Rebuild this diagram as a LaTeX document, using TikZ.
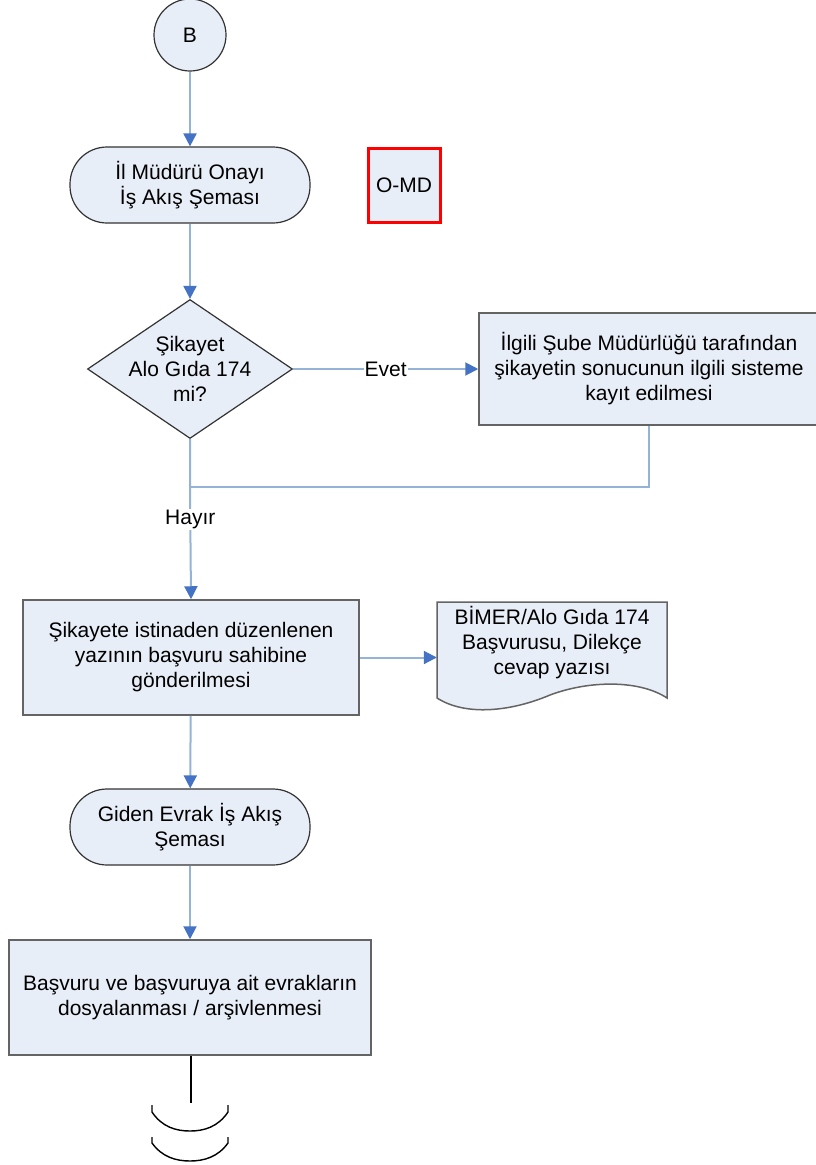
\documentclass[tikz,border=0pt]{standalone}
\usepackage{fontspec}
\setmainfont{Liberation Sans}
\usetikzlibrary{arrows.meta,shapes.geometric}
\definecolor{shapefill}{RGB}{232,238,247}
\definecolor{linkblue}{RGB}{149,179,215}
\definecolor{tipblue}{RGB}{68,114,196}
\definecolor{boxgrey}{RGB}{100,100,100}
\begin{document}
\begin{tikzpicture}[x=1pt,y=-1pt,
  txt/.style={font=\fontsize{21pt}{25pt}\selectfont, align=center, inner sep=0pt},
  procbox/.style={txt, draw=boxgrey, line width=1.5pt, fill=shapefill, minimum width=#1, minimum height=115pt},
  termbox/.style={txt, draw=black!80, line width=1.2pt, fill=shapefill, rounded corners=37pt, minimum width=240pt, minimum height=76pt},
  link/.style={draw=linkblue, line width=2pt},
  arrowlink/.style={link, -{Triangle[length=13pt,width=13pt,color=tipblue]}},
  lbl/.style={txt, fill=white, inner sep=1pt},
  breakmark/.style={black, line width=1.4pt}
]
\useasboundingbox (0,0) rectangle (815,1165);

% start connector
\node[circle, draw=black!80, line width=1.2pt, fill=shapefill, minimum size=72pt, txt] (b) at (190,35) {B};

\node[termbox] (t1) at (190,185) {İl Müdürü Onayı\\İş Akış Şeması};

\node[txt, draw=red, line width=3pt, fill=shapefill, minimum width=72pt, minimum height=74pt] (omd) at (404,185) {O-MD};

\node[diamond, draw=black!80, line width=1.2pt, fill=shapefill, minimum width=205pt, minimum height=139pt, inner sep=0pt] (d) at (190,369) {};
\node[txt] (dtext) at (190,369) {Şikayet\\Alo Gıda 174\\mi?};

\node[procbox=340pt, minimum height=112pt] (kayit) at (649,369) {İlgili Şube Müdürlüğü tarafından\\şikayetin sonucunun ilgili sisteme\\kayıt edilmesi};

\coordinate (join) at (190,487);
\coordinate (joinr) at (649,487);

\node[procbox=336pt] (yazi) at (191,657.5) {Şikayete istinaden düzenlenen\\yazının başvuru sahibine\\gönderilmesi};

% document shape
\draw[draw=boxgrey, line width=1.5pt, fill=shapefill]
  (437,602) -- (667,602) -- (667,698)
  .. controls (640,680) and (590,680) .. (550,695)
  .. controls (510,712) and (465,716) .. (437,698) -- cycle;
\node[txt, minimum width=230pt, minimum height=96pt] (doc) at (552,650) {};
\node[txt] (doctext) at (552,643) {BİMER/Alo Gıda 174\\Başvurusu, Dilekçe\\cevap yazısı};

\node[termbox] (t2) at (190,827) {Giden Evrak İş Akış\\Şeması};

\node[procbox=362pt] (arsiv) at (190,997.5) {Başvuru ve başvuruya ait evrakların\\dosyalanması / arşivlenmesi};

\coordinate (endline) at (191,1103);

% connectors
\draw[arrowlink] (b) -- (t1);
\draw[arrowlink] (t1) -- (d);
\draw[arrowlink] (d.east) -- node[lbl] {Evet} (kayit.west);
\draw[link] (kayit.south -| joinr) -- (joinr) -- (join);
\draw[arrowlink] (d.south) -- (join) -- node[lbl, pos=0.29] {Hayır} (yazi.north);
\draw[arrowlink] (yazi.east) -- (doc.west |- yazi.east);
\draw[arrowlink] (yazi) -- (t2);
\draw[arrowlink] (t2) -- (arsiv);
\draw[black, line width=2pt] (arsiv.south -| endline) -- (endline);

% break marks
\draw[breakmark]
  (152,1105) -- (152,1112) .. controls (162,1127) and (176,1131) .. (190,1131)
  .. controls (204,1131) and (218,1127) .. (228,1112) -- (228,1105);
\draw[breakmark]
  (152,1137) -- (152,1143) .. controls (162,1157) and (176,1161) .. (190,1161)
  .. controls (204,1161) and (218,1157) .. (228,1143) -- (228,1137);
\end{tikzpicture}
\end{document}
